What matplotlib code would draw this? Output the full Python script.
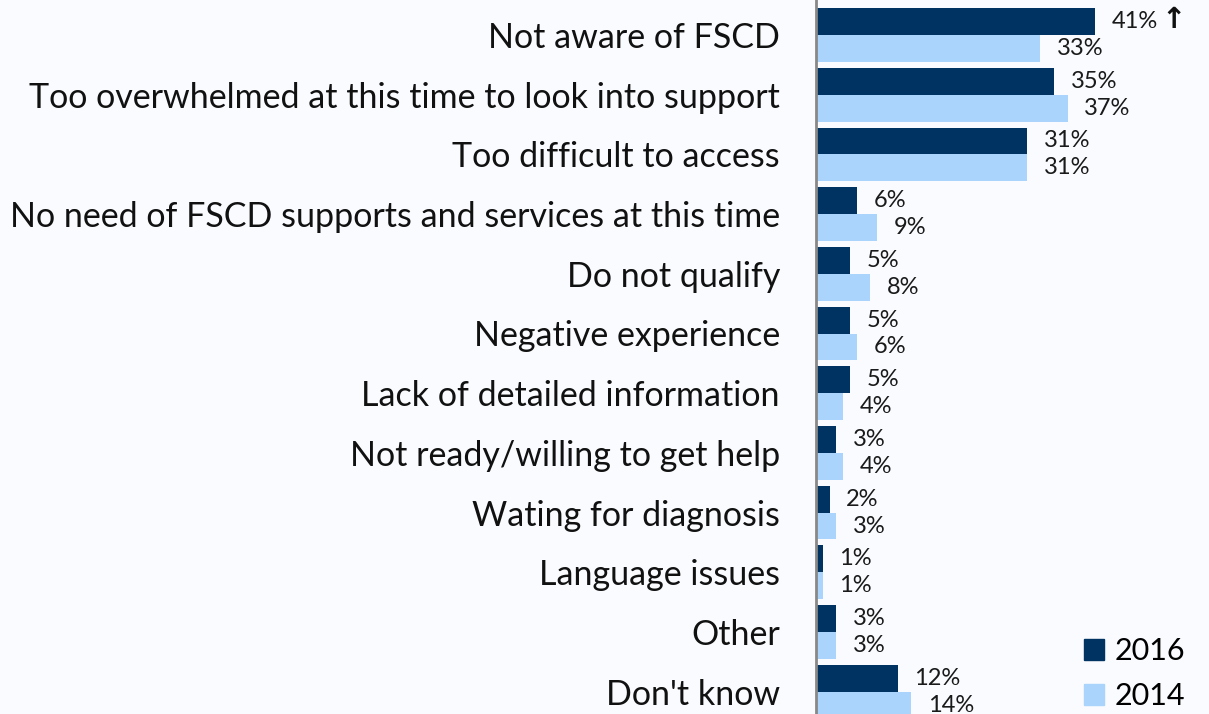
import numpy as np
import matplotlib.pyplot as plt
from matplotlib.patches import Patch

# Datos
categories = [
    "Not aware of FSCD",
    "Too overwhelmed at this time to look into support",
    "Too difficult to access",
    "No need of FSCD supports and services at this time",
    "Do not qualify",
    "Negative experience",
    "Lack of detailed information",
    "Not ready/willing to get help",
    "Wating for diagnosis",
    "Language issues",
    "Other",
    "Don't know",
]
values_2016 = [41, 35, 31, 6, 5, 5, 5, 3, 2, 1, 3, 12]
values_2014 = [33, 37, 31, 9, 8, 6, 4, 4, 3, 1, 3, 14]
labels_2016 = ["41%", "35%", "31%", "6%", "5%", "5%", "5%", "3%", "2%", "1%", "3%", "12%"]
labels_2014 = ["33%", "37%", "31%", "9%", "8%", "6%", "4%", "4%", "3%", "1%", "3%", "14%"]
flag_2016 = [True] + [False] * 11  # significant increase arrow

dark = "#003262"
light = "#aad4fb"
bg = "#f9fbfe"

plt.rcParams['font.family'] = ['Lato', 'DejaVu Sans']

fig = plt.figure(figsize=(12.09, 7.14), dpi=100, facecolor=bg)
ax = fig.add_axes([816 / 1209, 0, 1 - 816 / 1209, 1])
ax.set_facecolor(bg)

y = np.arange(len(categories))
h = 0.45
ax.barh(y - h / 2, values_2016, height=h, color=dark)
ax.barh(y + h / 2, values_2014, height=h, color=light)

for yi, v, lab, fl in zip(y, values_2016, labels_2016, flag_2016):
    ax.annotate(lab, (v, yi - h / 2), xytext=(12, 0), textcoords='offset points',
                va='center', ha='left', fontsize=17, color='#1a1a1a')
    if fl:
        ax.annotate("\u2191", (v, yi - h / 2), xytext=(48, 1), textcoords='offset points',
                    va='center', ha='left', fontsize=21, fontweight='bold',
                    color='#111111', family='DejaVu Sans')
for yi, v, lab in zip(y, values_2014, labels_2014):
    ax.annotate(lab, (v, yi + h / 2), xytext=(12, 0), textcoords='offset points',
                va='center', ha='left', fontsize=17, color='#1a1a1a')

pitch = 59.7
ax.set_ylim((714 - 35) / pitch, -35 / pitch)
ax.set_xlim(0, (1209 - 816) / 6.8)

ax.set_yticks(y)
ax.set_yticklabels(categories, fontsize=24.5, color='#111111')
ax.tick_params(axis='y', length=0, pad=26)
ax.set_xticks([])
for s in ['top', 'right', 'bottom']:
    ax.spines[s].set_visible(False)
ax.spines['left'].set_color('#888888')
ax.spines['left'].set_linewidth(2)

handles = [Patch(color=dark, label='2016'), Patch(color=light, label='2014')]
ax.legend(handles=handles, loc='lower right', bbox_to_anchor=(1.01, -0.033),
          frameon=False, fontsize=22, handlelength=0.65, handleheight=0.65,
          labelspacing=0.55, handletextpad=0.35)

plt.savefig('out.png', dpi=100, facecolor=bg)
